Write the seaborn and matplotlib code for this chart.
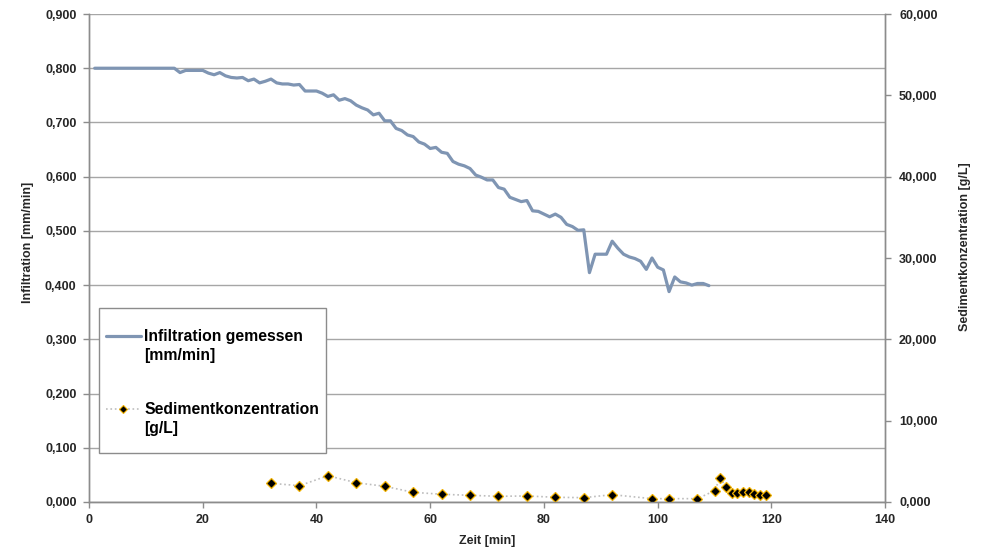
import matplotlib
matplotlib.use("Agg")
import matplotlib.pyplot as plt
from matplotlib.lines import Line2D
from matplotlib.patches import Rectangle
from matplotlib.ticker import FuncFormatter, MultipleLocator
import seaborn as sns
import pandas as pd

# Infiltration measured every minute (mm/min)
zeit_infiltration = list(range(1, 110))
infiltration = (
    [0.800] * 15 +
    [0.792, 0.796, 0.796, 0.796, 0.796, 0.791, 0.788, 0.792, 0.786, 0.783,
     0.782, 0.783, 0.777, 0.780, 0.773, 0.776, 0.780, 0.773, 0.771, 0.771,
     0.769, 0.770, 0.758, 0.758, 0.758, 0.754, 0.748, 0.751, 0.741, 0.744,
     0.740, 0.732, 0.727, 0.723, 0.714, 0.717, 0.703, 0.703, 0.689, 0.685,
     0.677, 0.674, 0.664, 0.660, 0.652, 0.654, 0.645, 0.643, 0.628, 0.623,
     0.620, 0.615, 0.603, 0.599, 0.594, 0.594, 0.580, 0.577, 0.562, 0.558,
     0.554, 0.556, 0.537, 0.536, 0.531, 0.526, 0.531, 0.525, 0.512, 0.508,
     0.501, 0.502, 0.423, 0.457, 0.457, 0.457, 0.481, 0.468, 0.457, 0.452,
     0.449, 0.444, 0.429, 0.450, 0.433, 0.428, 0.388, 0.415, 0.406, 0.404,
     0.400, 0.403, 0.403, 0.399]
)

# Sediment concentration samples (g/L)
zeit_sediment = [32, 37, 42, 47, 52, 57, 62, 67, 72, 77, 82, 87, 92, 99, 102,
                 107, 110, 111, 112, 113, 114, 115, 116, 117, 118, 119]
sediment = [2.30, 2.00, 3.23, 2.37, 1.93, 1.19, 0.95, 0.82, 0.70, 0.74, 0.58,
            0.53, 0.90, 0.41, 0.41, 0.41, 1.39, 2.99, 1.81, 1.07, 1.07, 1.19,
            1.19, 0.98, 0.86, 0.86]

x_ticks = [0, 20, 40, 60, 80, 100, 120, 140]

df_inf = pd.DataFrame({"Zeit": zeit_infiltration, "Infiltration": infiltration})
df_sed = pd.DataFrame({"Zeit": zeit_sediment, "Sediment": sediment})

sns.set_theme(style="white")
plt.rcParams["font.family"] = ["Liberation Sans", "DejaVu Sans"]
plt.rcParams["font.weight"] = "bold"

line_color = "#7F95B3"
axis_color = "#8C8C8C"
grid_color = "#A6A6A6"
text_color = "#262626"
dot_color = "#BDBDBD"
edge_gold = "#F2B200"

fig = plt.figure(figsize=(9.89, 5.52), dpi=100)
ax = fig.add_axes([0.090, 0.0906, 0.805, 0.884])
ax2 = ax.twinx()

sns.lineplot(data=df_inf, x="Zeit", y="Infiltration", ax=ax,
             color=line_color, linewidth=2.3, legend=False)
sns.lineplot(data=df_sed, x="Zeit", y="Sediment", ax=ax2,
             color=dot_color, linewidth=1.2, linestyle=":", marker="D",
             markersize=5.5, markerfacecolor="black",
             markeredgecolor=edge_gold, markeredgewidth=0.9, legend=False)

ax.set_xlim(0, 140)
ax.set_ylim(0, 0.9)
ax2.set_ylim(0, 60)
ax.set_xticks(x_ticks)
ax.yaxis.set_major_locator(MultipleLocator(0.1))
ax2.yaxis.set_major_locator(MultipleLocator(10))

fmt = FuncFormatter(lambda v, p: f"{v:.3f}".replace(".", ","))
ax.yaxis.set_major_formatter(fmt)
ax2.yaxis.set_major_formatter(fmt)

ax.grid(axis="y", color=grid_color, linewidth=1.0)
ax.grid(axis="x", visible=False)
ax.set_axisbelow(True)

for a in (ax, ax2):
    for side in ("left", "right", "bottom"):
        a.spines[side].set_visible(True)
        a.spines[side].set_color(axis_color)
        a.spines[side].set_linewidth(1.0)
    a.spines["top"].set_visible(False)

ax.tick_params(axis="y", which="major", direction="out", length=4,
               width=1, color=axis_color, labelsize=9, labelcolor=text_color,
               left=True, pad=5)
ax.tick_params(axis="x", which="major", direction="out", length=4,
               width=1, color=axis_color, labelsize=9, labelcolor=text_color,
               bottom=True, pad=5)
ax2.tick_params(axis="y", direction="out", length=4, width=1,
                color=axis_color, labelsize=9, labelcolor=text_color,
                right=True, pad=6)

ax.set_xlabel("Zeit [min]", fontsize=9, fontweight="bold", color=text_color,
              labelpad=6)
ax.set_ylabel("Infiltration [mm/min]", fontsize=9, fontweight="bold",
              color=text_color, labelpad=8)
ax2.set_ylabel("Sedimentkonzentration [g/L]", fontsize=9, fontweight="bold",
               color=text_color, labelpad=15)
ax.yaxis.label.set_y(0.533)
ax2.yaxis.label.set_y(0.5225)

# Legend panel: framed box with the handle beside the first line of each label
ax2.add_patch(Rectangle((0.0126, 0.0998), 0.2848, 0.2971,
                        transform=ax2.transAxes, facecolor="white",
                        edgecolor=axis_color, linewidth=1.0, zorder=4))
blank = Line2D([], [], linestyle="none")
handles = [
    Line2D([], [], color=line_color, linewidth=2.3),
    blank, blank, blank,
    Line2D([], [], color=dot_color, linewidth=1.2, linestyle=":", marker="D",
           markersize=4.5, markerfacecolor="black", markeredgecolor=edge_gold,
           markeredgewidth=0.8),
    blank,
]
labels = ["Infiltration gemessen", "[mm/min]", " ", " ",
          "Sedimentkonzentration", "[g/L]"]
leg = ax2.legend(handles, labels, loc="upper left",
                 bbox_to_anchor=(0.021, 0.354), borderaxespad=0,
                 frameon=False, labelspacing=0.21, handlelength=2.25,
                 handletextpad=0.2, borderpad=0,
                 prop={"weight": "bold", "size": 11.3})
leg.set_zorder(5)
for t in leg.get_texts():
    t.set_color("black")

fig.savefig("out.png", dpi=100)
